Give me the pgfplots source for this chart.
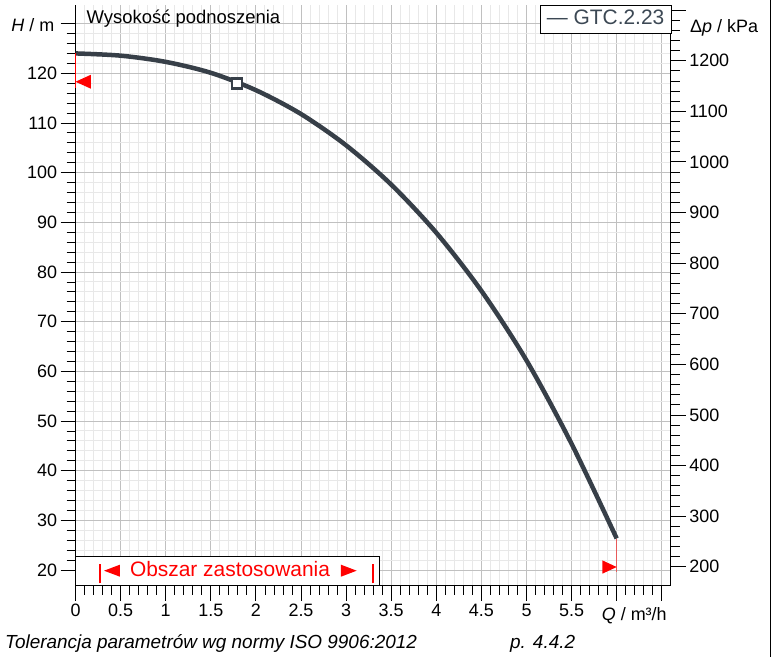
\documentclass[border=0pt]{standalone}
\usepackage{fontspec}
\setmainfont{Liberation Sans}
\usepackage{pgfplots}
\pgfplotsset{compat=1.18}
\definecolor{curve}{RGB}{55,63,72}
\definecolor{legtext}{RGB}{60,72,84}
\definecolor{majgrid}{RGB}{192,192,192}
\definecolor{mingrid}{RGB}{232,232,232}
\definecolor{tolred}{RGB}{232,90,90}
\begin{document}
\begin{tikzpicture}
\path[use as bounding box] (0,0) rectangle (775bp,657bp);
\pgfplotsset{
  common/.style={
    at={(75.5bp,71.3bp)}, anchor=south west,
    scale only axis, width=595.3bp, height=580.7bp,
    xmin=0, xmax=6.6,
    tick align=outside,
    major tick length=15bp, minor tick length=9bp,
    tick style={black, line width=0.8bp},
    axis line style={black, line width=1bp},
    tick label style={font=\fontsize{18}{20}\selectfont},
    /pgf/number format/assume math mode=true,
  }
}
\begin{axis}[common,
  ymin=16.84, ymax=133.75,
  axis x line*=bottom, axis y line*=left,
  xtick={0,0.5,1,1.5,2,2.5,3,3.5,4,4.5,5,5.5,6,6.5},
  xticklabels={0,0.5,1,1.5,2,2.5,3,3.5,4,4.5,5,5.5,{},{}},
  minor x tick num=4,
  ytick={20,30,40,50,60,70,80,90,100,110,120,130},
  yticklabels={20,30,40,50,60,70,80,90,100,110,120,{}},
  minor y tick num=4,
  grid=both,
  major grid style={majgrid, line width=0.9bp},
  minor grid style={mingrid, line width=0.9bp},
  clip=false,
]
% main pump curve H(Q)
\addplot[curve, line width=4.5bp, smooth] coordinates {
(0.0,124.0) (0.5,123.55) (1.0,122.3) (1.5,120.1) (2.0,116.6)
(2.5,111.8) (3.0,105.5) (3.5,97.6) (4.0,87.9) (4.5,76.2)
(5.0,62.2) (5.5,45.4) (6.0,26.35)};
% operating point
\addplot[only marks, mark=square*, mark size=5bp,
  mark options={fill=white, draw=curve, line width=2.8bp}] coordinates {(1.79,118.0)};
% tolerance markers
\addplot[red, line width=1.2bp] coordinates {(0,124) (0,117)};
\addplot[fill=red, draw=none] coordinates {(0,118.3) (0.17,119.7) (0.17,116.9)} -- cycle;
\addplot[tolred, line width=1.5bp] coordinates {(6,26.3) (6,19.5)};
\addplot[fill=red, draw=none] coordinates {(6,20.6) (5.84,21.95) (5.84,19.25)} -- cycle;
% application range box
\addplot[fill=white, draw=black, line width=1bp] coordinates {(0,16.84) (0,22.68) (3.37,22.68) (3.37,16.84)} -- cycle;
\addplot[red, line width=2bp] coordinates {(0.27,17.3) (0.27,21.15)};
\addplot[red, line width=2bp] coordinates {(3.295,17.3) (3.295,21.15)};
\addplot[fill=red, draw=none] coordinates {(0.316,19.86) (0.493,21.07) (0.493,18.65)} -- cycle;
\addplot[fill=red, draw=none] coordinates {(3.117,19.86) (2.943,21.07) (2.943,18.65)} -- cycle;
\node[red, anchor=base, inner sep=0, font=\fontsize{21}{24}\selectfont] at (axis cs:1.713,18.65) {Obszar zastosowania};
\end{axis}
\begin{axis}[common,
  ymin=162.5, ymax=1310,
  axis y line*=right, axis x line=none,
  ytick={200,300,400,500,600,700,800,900,1000,1100,1200,1300},
  yticklabels={200,300,400,500,600,700,800,900,1000,1100,1200,{}},
  minor y tick num=4,
]
\end{axis}
% texts
\node[anchor=base west, inner sep=0, font=\fontsize{18.5}{20}\selectfont] at (86.5bp,633.7bp) {Wysokość podnoszenia};
\draw[black, line width=1bp, fill=white] (540.7bp,651.7bp) rectangle (671bp,623bp);
\node[anchor=base west, inner sep=0, text=legtext, font=\fontsize{21}{24}\selectfont] at (546.7bp,632bp) {— GTC.2.23};
\node[anchor=base west, inner sep=0, font=\fontsize{18}{20}\selectfont] at (11.2bp,625.3bp) {\textit{H} / m};
\node[anchor=base west, inner sep=0, font=\fontsize{18}{20}\selectfont] at (690bp,624.7bp) {Δ\textit{p} / kPa};
\node[anchor=base west, inner sep=0, font=\fontsize{18}{20}\selectfont] at (601.7bp,37bp) {\textit{Q} / m³/h};
\node[anchor=base west, inner sep=0, font=\fontsize{19}{21}\selectfont\itshape] at (5bp,8.7bp) {Tolerancja parametrów wg normy ISO 9906:2012};
\node[anchor=base west, inner sep=0, font=\fontsize{19}{21}\selectfont\itshape] at (510bp,8.7bp) {p. 4.4.2};
\draw[black, line width=1bp] (770.5bp,0) -- (770.5bp,657bp);
\end{tikzpicture}
\end{document}
